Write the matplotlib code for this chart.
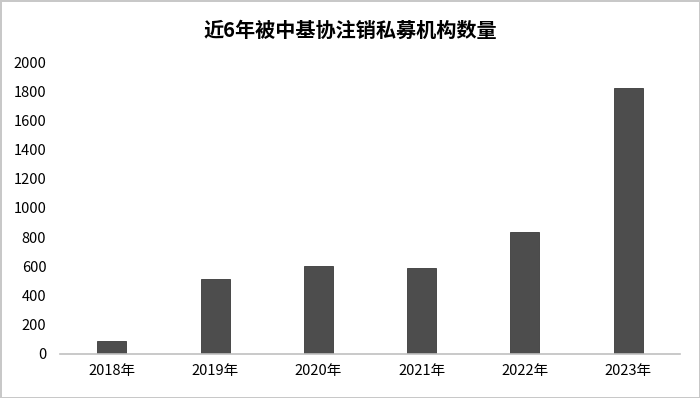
import matplotlib.pyplot as plt

plt.rcParams['font.family'] = ['Noto Sans CJK SC', 'DejaVu Sans']

years = ['2018年', '2019年', '2020年', '2021年', '2022年', '2023年']
counts = [89, 514, 603, 589, 836, 1822]
yticks = [0, 200, 400, 600, 800, 1000, 1200, 1400, 1600, 1800, 2000]

fig = plt.figure(figsize=(7, 3.98), dpi=100)
fig.patch.set_edgecolor('#c8c8c8')
fig.patch.set_linewidth(2)
ax = fig.add_axes([0.086, 0.111, 0.885, 0.733])

x = list(range(len(years)))
ax.bar(x, counts, width=0.28, color='#4d4d4d', edgecolor='#3a3a3a', linewidth=0.6)

ax.set_xlim(-0.5, len(years) - 0.5)
ax.set_ylim(0, 2000)
ax.set_xticks(x)
ax.set_xticklabels(years, fontsize=10.5)
ax.set_yticks(yticks)
ax.set_yticklabels([str(v) for v in yticks], fontsize=10.5)
ax.tick_params(length=0, pad=10)
ax.tick_params(axis='x', pad=7)

for s in ['top', 'right', 'left']:
    ax.spines[s].set_visible(False)
ax.spines['bottom'].set_color('#c0c0c0')
ax.spines['bottom'].set_linewidth(1.2)

fig.text(0.5, 0.925, '近6年被中基协注销私募机构数量', ha='center', va='center',
         fontsize=14.5, fontweight='bold')

fig.savefig('out.png', dpi=100, edgecolor=fig.get_edgecolor())
